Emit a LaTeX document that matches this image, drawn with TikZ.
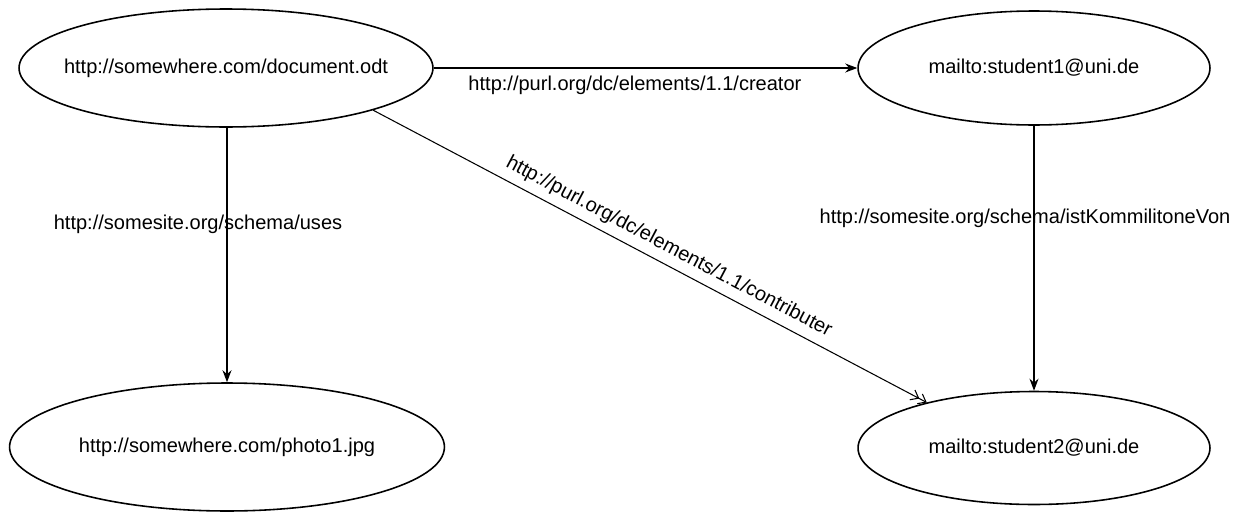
\documentclass[tikz,border=0pt]{standalone}
\usepackage{fontspec}
\setmainfont{Liberation Sans}
\usetikzlibrary{arrows.meta, shapes.geometric, positioning}
\tikzset{
    resNode/.style={ellipse, draw, line width=0.9pt, inner sep=0pt, font=\fontsize{11.4}{13}\selectfont},
    propEdge/.style={-{Stealth[length=2.4mm, width=1.8mm]}, line width=0.7pt},
    propOpen/.style={-{Straight Barb[length=1.4mm, width=2.2mm] Straight Barb[length=1.4mm, width=2.2mm]}, line width=0.6pt},
    propLabel/.style={font=\fontsize{11.4}{13}\selectfont, inner sep=1pt},
}
\newcommand{\drawProp}[4][]{
    \draw[propEdge] (#2) -- node[propLabel, #1] {#4} (#3);
}

\begin{document}
\begin{tikzpicture}[x=0.02cm, y=-0.02cm]
        \useasboundingbox (0, 0) rectangle (1241, 514);

        \node[resNode, inner xsep=-0.36cm, minimum width=8.28cm, minimum height=2.36cm] (doc) at (226, 68) {http://somewhere.com/document.odt};
        \node[resNode, minimum width=7.04cm, minimum height=2.28cm] (stu1) at (1034, 68) {mailto:student1@uni.de};
        \node[resNode, minimum width=8.7cm, minimum height=2.56cm] (photo) at (227, 447) {http://somewhere.com/photo1.jpg};
        \node[resNode, minimum width=7.04cm, minimum height=2.26cm] (stu2) at (1034, 448) {mailto:student2@uni.de};

        \drawProp[pos=0.475, below=3pt]{doc}{stu1}{http://purl.org/dc/elements/1.1/creator}
        \drawProp[pos=0.38, xshift=-0.58cm]{doc.south -| photo.north}{photo}{http://somesite.org/schema/uses}
        \drawProp[pos=0.35, xshift=-0.18cm]{stu1}{stu2}{http://somesite.org/schema/istKommilitoneVon}
        \draw[propOpen] (doc.-16) -- node[propLabel, pos=0.52, sloped, above=3pt] {http://purl.org/dc/elements/1.1/contributer} (stu2.157);

    \end{tikzpicture}
\end{document}
